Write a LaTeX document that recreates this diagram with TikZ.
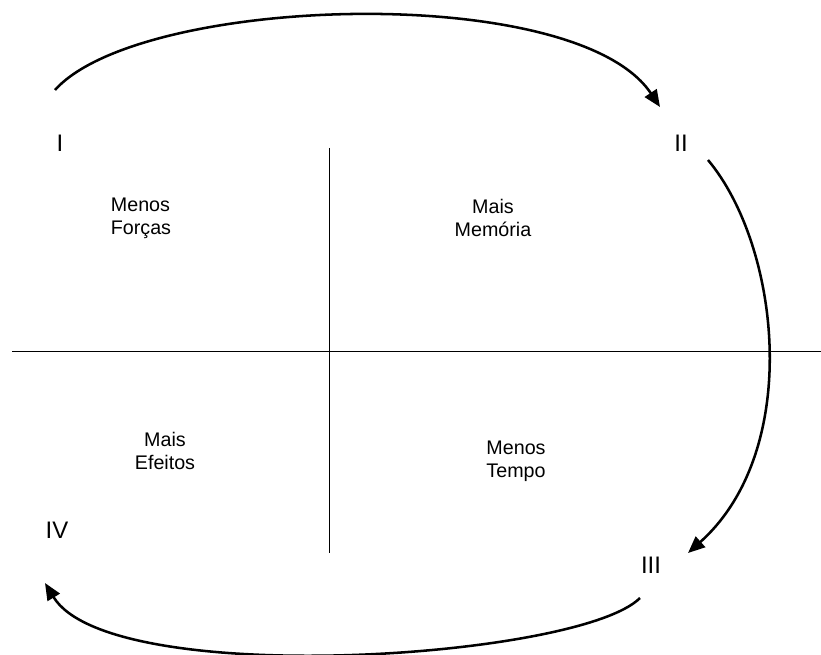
\documentclass[tikz,border=0pt]{standalone}
\usepackage{fontspec}
\setmainfont{Liberation Sans}
\usetikzlibrary{arrows.meta}

\begin{document}
\begin{tikzpicture}[
  x=0.025cm, y=-0.025cm,
  quad/.style={align=center, font=\fontsize{14}{16.4}\selectfont},
  roman/.style={font=\fontsize{17}{20}\selectfont},
  axis/.style={line width=0.6pt},
  cycle/.style={-{Triangle[length=12pt,width=10pt]}, line width=1.8pt},
]

\useasboundingbox (0,0) rectangle (821,655);

% === Axes ===
\coordinate (vtop) at (329,148);
\coordinate (vbot) at (329,553);
\coordinate (hleft) at (12,351);
\coordinate (hright) at (821,351);
\draw[axis] (vtop) -- (vbot);
\draw[axis] (hleft) -- (hright);

% === Quadrants ===
\node[quad, align=left] (forcas) at (141,218) {Menos\\Forças};
\node[quad] (memoria) at (493,218) {Mais\\Memória};
\node[quad] (efeitos) at (165,451) {Mais\\Efeitos};
\node[quad] (tempo) at (516,461) {Menos\\Tempo};

% === Phases ===
\node[roman] (one) at (60,143) {I};
\node[roman] (two) at (681,143) {II};
\node[roman] (three) at (651,565) {III};
\node[roman] (four) at (57,530) {IV};

% === Cycle arrows ===
\coordinate (s1) at (55,90);
\coordinate (e1) at (660,107);
\coordinate (s2) at (708,160);
\coordinate (e2) at (688,553);
\coordinate (s3) at (640,598);
\coordinate (e3) at (45,583);
\draw[cycle] (s1) .. controls (140,-5) and (576,-19) .. (e1);
\draw[cycle] (s2) .. controls (780,246) and (803,450) .. (e2);
\draw[cycle] (s3) .. controls (579,659) and (110,690) .. (e3);

\end{tikzpicture}
\end{document}
